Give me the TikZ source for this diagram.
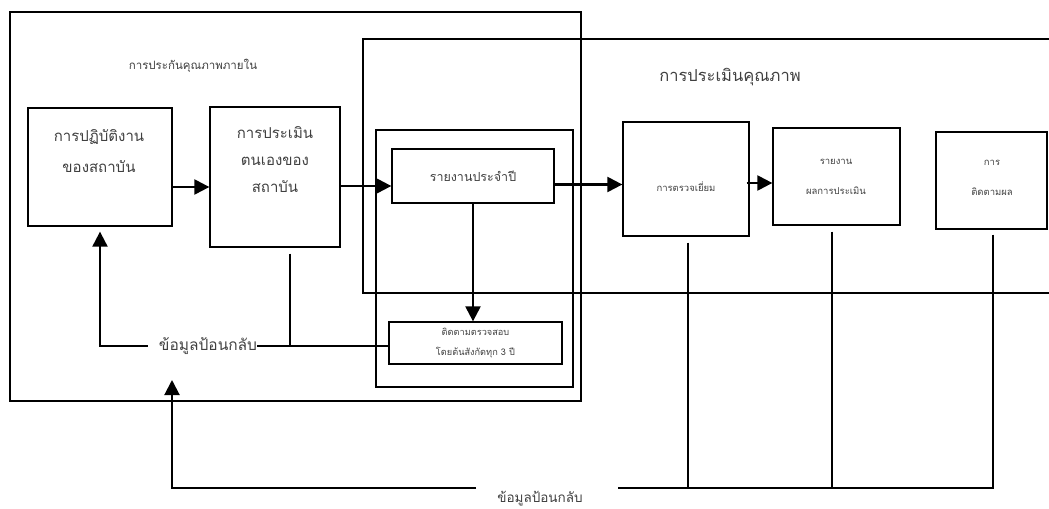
\documentclass[tikz,border=0pt]{standalone}
\usepackage{fontspec}
\setmainfont[Script=Thai]{Loma}
\usetikzlibrary{arrows.meta}

\tikzset{
	kasten/.style={draw,line width=1.3bp,inner sep=0pt},
	rahmen/.style={line width=1.1bp},
	linie/.style={line width=1.3bp},
	pfeil/.style={line width=2.3bp,-{Triangle[length=15bp,width=15bp]}},
	schrift/.style={text=black!75},
	gross/.style={schrift,font=\fontsize{15bp}{31bp}\selectfont,align=center},
	mittel/.style={schrift,font=\fontsize{12.5bp}{15bp}\selectfont,align=center},
	klein/.style={schrift,font=\fontsize{9.5bp}{30bp}\selectfont,align=center},
}

\begin{document}
\begin{tikzpicture}[x=1bp,y=-1bp]
\useasboundingbox (0,0) rectangle (1049,509);

% Rahmen
\draw[rahmen] (10,12) rectangle (581,401);
\draw[rahmen] (1052,39) -- (363,39) -- (363,293) -- (1052,293);
\draw[rahmen] (376,130) rectangle (573,387);

\node[schrift,font=\fontsize{11.5bp}{14bp}\selectfont] (internlabel) at (193,66) {การประกันคุณภาพภายใน};
\node[schrift,font=\fontsize{16.5bp}{20bp}\selectfont] (extlabel) at (730,77) {การประเมินคุณภาพ};

% Kaesten
\node[kasten,minimum width=144bp,minimum height=118bp] (praxis) at (100,167) {};
\node[gross] (praxistext) at (99,151.5) {การปฏิบัติงาน\\ของสถาบัน};

\node[kasten,minimum width=130bp,minimum height=140bp] (selbst) at (275,177) {};
\node[gross,font=\fontsize{15bp}{27bp}\selectfont] (selbsttext) at (275,160) {การประเมิน\\ตนเองของ\\สถาบัน};

\node[kasten,mittel,minimum width=162bp,minimum height=54bp] (jahr) at (473,176) {รายงานประจำปี};

\node[kasten,minimum width=126bp,minimum height=114bp] (besuch) at (686,179) {};
\node[klein] (besuchtext) at (686,187) {การตรวจเยี่ยม};

\node[kasten,minimum width=127bp,minimum height=97bp] (bericht) at (836.5,176.5) {};
\node[klein] (berichttext) at (836,176.5) {รายงาน\\ผลการประเมิน};

\node[kasten,minimum width=111bp,minimum height=97bp] (verfolg) at (991.5,180.5) {};
\node[klein] (verfolgtext) at (992,178) {การ\\ติดตามผล};

\node[kasten,schrift,draw=black,minimum width=173bp,minimum height=42bp,font=\fontsize{9.2bp}{20bp}\selectfont,align=center]
	(pruef) at (475.5,343) {ติดตามตรวจสอบ\\โดยต้นสังกัดทุก 3 ปี};

% Pfeile
\coordinate (h1) at (0,187);
\coordinate (h2) at (0,186);
\coordinate (h3) at (0,184.5);
\coordinate (h4) at (0,183);
\draw[pfeil] (praxis.east |- h1) -- (selbst.west |- h1);
\draw[pfeil] (selbst.east |- h2) -- (jahr.west |- h2);
\draw[pfeil] (jahr.east |- h3) -- (besuch.west |- h3);
\draw[pfeil] ([xshift=-3bp]besuch.east |- h4) -- (bericht.west |- h4);
\draw[pfeil] (jahr.south) -- (jahr.south |- pruef.north);

% Rueckmeldung innen
\node[schrift,inner sep=0pt,font=\fontsize{15.5bp}{18bp}\selectfont] (rueck1) at (208,346) {ข้อมูลป้อนกลับ};
\draw[linie] (pruef.west |- rueck1) -- (rueck1.east);
\draw[linie] ([xshift=15bp,yshift=-6bp]selbst.south) -- ([xshift=15bp]selbst.south |- rueck1);
\draw[pfeil,line width=2bp] ([xshift=-11bp]rueck1.west) -| ([yshift=-5bp]praxis.south);

% Rueckmeldung aussen
\node[schrift,inner sep=0pt,font=\fontsize{13.5bp}{16bp}\selectfont] (rueck2) at (540,499) {ข้อมูลป้อนกลับ};
\coordinate (ur) at (618,488);
\coordinate (ul) at (476,488);
\coordinate (zielA) at (172,380);
\draw[linie] ([xshift=2bp,yshift=-6bp]besuch.south) -- ([xshift=2bp]besuch.south |- ur);
\draw[linie] ([xshift=-4.5bp,yshift=-6bp]bericht.south) -- ([xshift=-4.5bp]bericht.south |- ur);
\draw[linie] ([xshift=1.5bp,yshift=-5bp]verfolg.south) |- (ur);
\draw[pfeil,line width=2bp] (ul) -| (zielA);

\end{tikzpicture}
\end{document}
